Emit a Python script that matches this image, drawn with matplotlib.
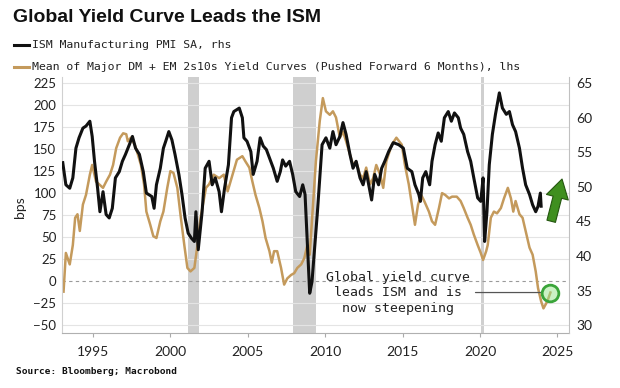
import matplotlib
matplotlib.use('Agg')
import matplotlib.pyplot as plt

# ISM Manufacturing PMI (rhs)
ism_dates = [1993.05, 1993.25, 1993.5, 1993.7, 1993.9, 1994.1, 1994.35, 1994.55, 1994.8, 1994.95,
             1995.1, 1995.3, 1995.45, 1995.65, 1995.85, 1996.05, 1996.25, 1996.45, 1996.7, 1996.9,
             1997.1, 1997.35, 1997.55, 1997.75, 1998.0, 1998.25, 1998.45, 1998.8, 1998.95, 1999.1,
             1999.35, 1999.55, 1999.7, 1999.9, 2000.1, 2000.3, 2000.55, 2000.75, 2000.95, 2001.15,
             2001.35, 2001.55, 2001.65, 2001.8, 2002.05, 2002.25, 2002.5, 2002.7, 2002.9, 2003.15,
             2003.3, 2003.5, 2003.75, 2003.95, 2004.1, 2004.45, 2004.65, 2004.75, 2004.95, 2005.2,
             2005.35, 2005.6, 2005.8, 2006.0, 2006.2, 2006.45, 2006.65, 2006.9, 2007.1, 2007.25,
             2007.45, 2007.7, 2007.9, 2008.1, 2008.35, 2008.55, 2008.7, 2008.85, 2009.0, 2009.15,
             2009.5, 2009.8, 2010.05, 2010.3, 2010.5, 2010.7, 2010.95, 2011.15, 2011.35, 2011.6,
             2011.8, 2012.0, 2012.25, 2012.45, 2012.65, 2012.9, 2013.0, 2013.2, 2013.45, 2013.65,
             2013.85, 2014.1, 2014.4, 2014.75, 2015.05, 2015.3, 2015.6, 2015.8, 2016.05, 2016.15,
             2016.3, 2016.5, 2016.75, 2016.9, 2017.1, 2017.3, 2017.5, 2017.7, 2017.95, 2018.15,
             2018.35, 2018.6, 2018.75, 2018.95, 2019.2, 2019.4, 2019.6, 2019.85, 2020.05, 2020.2,
             2020.3, 2020.45, 2020.6, 2020.8, 2021.0, 2021.25, 2021.45, 2021.7, 2021.9, 2022.1,
             2022.3, 2022.55, 2022.75, 2022.95, 2023.2, 2023.4, 2023.6, 2023.75, 2023.9, 2023.95]
ism_values = [53.5, 50.3, 49.8, 51.3, 55.6, 57.1, 58.5, 58.8, 59.5, 57.3,
              53.7, 49.8, 46.4, 49.3, 46.0, 45.5, 46.9, 51.3, 52.2, 53.7,
              54.7, 56.1, 57.3, 55.6, 54.7, 52.2, 49.1, 48.6, 46.9, 50.3,
              52.7, 55.6, 56.6, 58.0, 56.8, 54.7, 51.8, 48.9, 45.5, 43.3,
              42.6, 42.1, 46.4, 40.9, 46.4, 52.7, 53.7, 50.3, 51.3, 49.3,
              46.4, 49.8, 53.2, 60.0, 60.9, 61.4, 60.0, 57.1, 56.6, 55.1,
              51.8, 53.7, 57.1, 55.9, 55.4, 53.9, 52.7, 50.8, 52.2, 53.9,
              53.0, 53.7, 51.8, 49.3, 48.6, 50.3, 48.9, 41.6, 34.6, 36.3,
              46.4, 56.1, 57.1, 55.6, 58.0, 56.1, 57.3, 59.3, 57.6, 54.7,
              52.7, 53.7, 51.3, 50.3, 52.2, 49.3, 48.1, 51.8, 50.3, 52.7,
              53.7, 55.1, 56.4, 56.1, 55.6, 52.7, 52.2, 50.3, 48.9, 47.9,
              51.3, 52.2, 50.3, 53.7, 56.1, 57.8, 56.6, 60.0, 60.9, 59.5,
              60.7, 60.0, 58.5, 57.6, 55.1, 53.7, 51.3, 48.4, 47.9, 51.3,
              42.1, 46.4, 53.2, 57.6, 60.5, 63.6, 61.4, 60.5, 60.9, 59.0,
              58.0, 55.6, 52.7, 50.3, 48.9, 47.4, 46.4, 47.2, 49.1, 47.2]

# Mean DM + EM 2s10s curve, pushed forward 6 months (lhs, bps)
curve_dates = [1993.1, 1993.25, 1993.5, 1993.7, 1993.85, 1994.0, 1994.15, 1994.35, 1994.55, 1994.8,
               1994.95, 1995.2, 1995.4, 1995.65, 1995.85, 1996.1, 1996.3, 1996.5, 1996.75, 1996.95,
               1997.15, 1997.25, 1997.45, 1997.7, 1997.9, 1998.1, 1998.3, 1998.45, 1998.7, 1998.9,
               1999.1, 1999.35, 1999.55, 1999.8, 2000.0, 2000.2, 2000.45, 2000.65, 2000.9, 2001.1,
               2001.3, 2001.55, 2001.75, 2001.95, 2002.3, 2002.5, 2002.8, 2003.15, 2003.45, 2003.7,
               2003.95, 2004.3, 2004.65, 2004.85, 2005.1, 2005.3, 2005.5, 2005.75, 2005.95, 2006.15,
               2006.4, 2006.55, 2006.7, 2006.9, 2007.15, 2007.35, 2007.55, 2007.8, 2008.0, 2008.2,
               2008.45, 2008.65, 2008.85, 2009.0, 2009.2, 2009.4, 2009.65, 2009.85, 2010.05, 2010.3,
               2010.5, 2010.7, 2010.95, 2011.15, 2011.35, 2011.6, 2011.8, 2012.0, 2012.25, 2012.45,
               2012.65, 2012.9, 2013.1, 2013.3, 2013.55, 2013.75, 2013.95, 2014.3, 2014.6, 2014.95,
               2015.15, 2015.4, 2015.6, 2015.8, 2016.0, 2016.2, 2016.4, 2016.7, 2016.9, 2017.1,
               2017.35, 2017.55, 2017.75, 2018.0, 2018.2, 2018.5, 2018.75, 2018.95, 2019.2, 2019.4,
               2019.6, 2019.85, 2020.05, 2020.2, 2020.4, 2020.5, 2020.7, 2020.9, 2021.1, 2021.35,
               2021.55, 2021.8, 2022.0, 2022.15, 2022.3, 2022.55, 2022.75, 2022.95, 2023.2, 2023.4,
               2023.6, 2023.75, 2023.95, 2024.1, 2024.35, 2024.55]
curve_values = [-12, 32, 19, 41, 72, 76, 57, 87, 98, 121,
                132, 113, 110, 106, 113, 121, 132, 151, 163, 168,
                167, 159, 163, 155, 144, 132, 110, 79, 64, 51,
                49, 68, 79, 106, 125, 123, 106, 76, 41, 15,
                11, 15, 41, 72, 106, 110, 121, 117, 121, 102,
                117, 138, 142, 136, 129, 113, 98, 83, 68, 49,
                34, 21, 34, 34, 15, -4, 3, 7, 9, 15,
                19, 26, 41, 30, 83, 136, 182, 208, 193, 189,
                193, 186, 163, 170, 159, 144, 132, 136, 121, 117,
                129, 110, 117, 132, 121, 106, 136, 155, 163, 155,
                132, 110, 87, 64, 87, 98, 91, 79, 68, 64,
                83, 100, 98, 94, 96, 96, 91, 83, 72, 64,
                53, 41, 32, 24, 34, 41, 72, 79, 77, 83,
                94, 106, 94, 79, 91, 76, 72, 57, 38, 30,
                11, -8, -23, -31, -23, -13]

recession_starts = [2001.17, 2007.92, 2020.08]
recession_ends = [2001.83, 2009.42, 2020.25]

lhs_ticks = list(range(-50, 226, 25))
rhs_ticks = list(range(30, 66, 5))
year_ticks = list(range(1995, 2026, 5))

TAN = '#c49a5c'
W, H = 620, 388


def fx(px):
    return px / W


def fy(py):
    return 1 - py / H


fig = plt.figure(figsize=(6.2, 3.88), dpi=100)
fig.patch.set_facecolor('white')

ax = fig.add_axes([fx(62), fy(333), fx(569) - fx(62), fy(77) - fy(333)])
ax2 = ax.twinx()

for s, e in zip(recession_starts, recession_ends):
    ax.axvspan(s, e, color='#cfcfcf', lw=0, zorder=0)
for t in lhs_ticks:
    if t != 0:
        ax.axhline(t, color='#e4e4e4', lw=0.8, zorder=0.5)
ax.axhline(0, color='#9a9a9a', lw=0.8, ls=(0, (3, 3)), zorder=0.6)

ax.plot(curve_dates, curve_values, color=TAN, lw=1.8, zorder=2)
ax2.plot(ism_dates, ism_values, color='#111111', lw=2.2, zorder=3)

ax.set_xlim(1993.0, 2025.75)
ax.set_ylim(-59, 232)
ax2.set_ylim(28.85, 65.9)

ax.set_yticks(lhs_ticks)
ax2.set_yticks(rhs_ticks)
ax.set_xticks(year_ticks)

tick_font = 'Lato'
ax.tick_params(axis='y', length=0, pad=4, labelsize=9.5, labelcolor='#222222')
ax2.tick_params(axis='y', length=0, pad=5, labelsize=10, labelcolor='#222222')
ax.tick_params(axis='x', length=3, color='#aaaaaa', pad=6, labelsize=10, labelcolor='#222222')
for lab in ax.get_xticklabels() + ax.get_yticklabels() + ax2.get_yticklabels():
    lab.set_family(tick_font)

for a in (ax, ax2):
    a.spines['top'].set_visible(False)
ax.spines['right'].set_visible(False)
ax2.spines['left'].set_visible(False)
ax2.spines['bottom'].set_visible(False)
ax.spines['left'].set_color('#d0d0d0')
ax.spines['bottom'].set_color('#b0b0b0')
ax2.spines['right'].set_color('#c0c0c0')

fig.text(fx(20), fy(207), 'bps', rotation=90, ha='center', va='center',
         fontsize=10, family=tick_font, color='#222222')

# annotation
note = 'Global yield curve\nleads ISM and is\nnow steepening'
ax.annotate(note, xy=(curve_dates[-1], curve_values[-1]),
            xytext=(2014.7, curve_values[-1]), ha='center', va='center',
            family='DejaVu Sans Mono', fontsize=9.5, linespacing=1.25, color='#222222',
            arrowprops=dict(arrowstyle='-', color='#555555', lw=0.9, shrinkA=2, shrinkB=7),
            zorder=5)
ax.plot(curve_dates[-1], curve_values[-1], marker='o', markersize=12,
        mfc=(0.6, 0.9, 0.55, 0.5), mec='#3aa53a', mew=2, zorder=6)
ax.annotate('', xy=(2025.3, 116), xytext=(2024.6, 68),
            arrowprops=dict(arrowstyle='simple,head_length=0.75,head_width=0.9,tail_width=0.35',
                            fc='#3f8f1f', ec='#24560f', lw=0.8, mutation_scale=18,
                            shrinkA=0, shrinkB=0),
            zorder=6)

# title, legend, source
fig.text(fx(13), fy(18), 'Global Yield Curve Leads the ISM', ha='left', va='center',
         fontsize=14, fontweight='bold', family='Liberation Sans', color='#111111')
leg_font = 'DejaVu Sans Mono'
fig.add_artist(plt.Line2D([fx(14), fx(29)], [fy(45), fy(45)], color='#111111', lw=2.2))
fig.add_artist(plt.Line2D([fx(14), fx(29)], [fy(67), fy(67)], color=TAN, lw=2.2))
fig.text(fx(32), fy(45), 'ISM Manufacturing PMI SA, rhs', ha='left', va='center',
         fontsize=8.25, family=leg_font, color='#222222')
fig.text(fx(32), fy(67),
         'Mean of Major DM + EM 2s10s Yield Curves (Pushed Forward 6 Months), lhs',
         ha='left', va='center', fontsize=8.25, family=leg_font, color='#222222')
fig.text(fx(16), fy(372), 'Source: Bloomberg; Macrobond', ha='left', va='center',
         fontsize=6.8, fontweight='bold', family=leg_font, color='#111111')

fig.savefig('out.png', dpi=100)
